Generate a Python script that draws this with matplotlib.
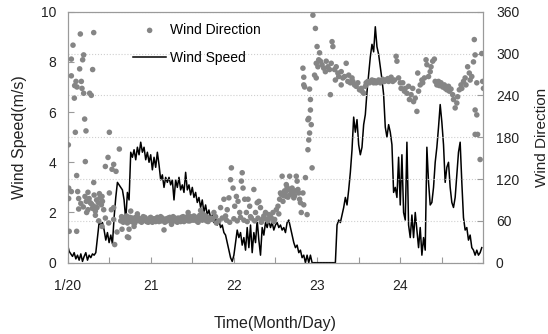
import numpy as np
import matplotlib
matplotlib.use('Agg')
import matplotlib.pyplot as plt
from matplotlib.patches import Rectangle

plt.rcParams['font.family'] = ['Liberation Sans', 'DejaVu Sans']

# wind speed (m/s), one value every 0.02 day starting 1/20 00:00
speed = [
    0.73, 0.45, 0.35, 0.25, 0.4, 0.15, 0.3, 0.1, 0.35, 0.05,
    0.25, 0.4, 0.1, 0.3, 0.2, 0.35, 0.3, 0.4, 1.0, 1.6,
    1.5, 1.6, 1.3, 0.9, 1.2, 0.8, 1.1, 0.75, 1.8, 2.6,
    3.2, 3.1, 3.0, 2.9, 2.5, 1.7, 2.8, 2.5, 4.4, 4.2,
    4.5, 4.1, 4.6, 4.3, 4.8, 4.4, 4.6, 4.1, 4.4, 4.0,
    4.3, 3.7, 4.2, 3.8, 4.4, 3.9, 3.3, 3.5, 3.0, 3.4,
    3.2, 3.4, 3.1, 3.3, 2.5, 3.3, 3.0, 3.4, 2.9, 3.1,
    2.8, 3.6, 2.9, 3.1, 2.7, 3.0, 2.6, 2.8, 2.4, 2.6,
    2.2, 2.5, 2.0, 2.3, 1.9, 2.1, 1.8, 1.9, 1.6, 1.8,
    1.5, 1.7, 1.4, 1.5, 1.2, 1.1, 0.8, 0.5, 0.2, 0.05,
    0.3, 0.8, 1.3, 1.0, 1.2, 0.7, 1.0, 0.5, 1.4, 0.6,
    1.5, 0.4, 1.2, 0.8, 1.7, 0.9, 0.3, 1.4, 1.1, 1.6,
    1.4, 1.7, 1.4, 1.6, 1.3, 1.5, 1.6, 1.4, 1.5, 1.3,
    1.4, 1.2, 1.6, 1.7, 1.4, 1.1, 0.8, 0.6, 0.7, 0.4,
    0.5, 0.2, 0.3, 0.0, 0.3, 0.0, 0.3, 0.0, 0.0, 0.0,
    0.0, 0.0, 0.0, 0.0, 0.0, 0.0, 0.0, 0.0, 0.0, 0.0,
    0.0, 0.0, 1.5, 1.7, 1.6, 1.9, 2.2, 2.6, 2.3, 2.9,
    3.6, 4.5, 5.8, 5.2, 5.7, 4.7, 4.3, 4.6, 5.5, 5.9,
    6.8, 7.5, 8.2, 8.7, 8.4, 9.4, 8.6, 8.3, 7.8, 7.3,
    6.7, 5.4, 5.0, 5.5, 5.2, 4.7, 2.8, 3.0, 2.6, 4.2,
    2.3, 4.3, 2.0, 1.7, 4.8, 1.5, 1.0, 1.9, 1.0, 2.0,
    1.3, 0.6, 1.4, 0.3, 1.0, 0.5, 4.6, 3.2, 2.3, 2.4,
    3.0, 4.0, 4.6, 5.4, 6.3, 5.6, 4.7, 3.2, 3.8, 4.0,
    3.0, 2.4, 2.2, 2.6, 3.5, 4.4, 4.8, 3.2, 1.8, 1.3,
    1.4, 0.9, 1.1, 0.6, 0.5, 0.3, 0.5, 0.3, 0.4, 0.6,
]
speed_day = np.arange(len(speed)) * 0.02

# wind direction (deg), day offset from 1/20 00:00
day_a = [0.154, 0.315, 0.066, 0.046, 0.194, 0.182, 0.146, 0.302, 0.046, 0.102,
         0.086, 0.166, 0.114, 0.174, 0.194, 0.266, 0.286, 0.082, 0.206, 0.222,
         0.094, 0.503, 0.010, 0.214, 0.623, 0.487, 0.555, 0.455, 0.535, 0.583,
         0.110, 0.315, 0.014, 0.046, 0.122, 0.246, 0.383, 0.415, 0.503, 0.014,
         0.134, 0.226, 0.274, 0.315, 0.355, 0.407, 0.134, 0.246, 0.335, 0.435,
         0.527, 0.555, 0.335, 0.455, 0.375, 0.495, 0.555, 0.655, 0.595, 0.735,
         0.567, 0.020, 0.110, 0.415, 0.26, 0.29, 0.32, 0.35, 0.37, 0.39,
         0.42, 0.30, 0.16, 0.19, 0.21, 0.23]
deg_a = [328, 330, 312, 292, 298, 291, 278, 277, 268, 260,
         254, 260, 252, 250, 243, 243, 240, 236, 206, 189,
         187, 187, 169, 145, 163, 151, 141, 138, 134, 131,
         125, 115, 107, 102, 102, 101, 99, 95, 100, 92,
         92, 88, 86, 81, 79, 83, 77, 76, 74, 76,
         76, 79, 68, 64, 60, 57, 62, 48, 44, 36,
         26, 45, 45, 52, 92, 84, 97, 90, 86, 93,
         88, 78, 85, 80, 95, 72]

day_b = [0.64, 0.65, 0.67, 0.68, 0.70, 0.71, 0.72, 0.74, 0.75, 0.77,
         0.78, 0.80, 0.81, 0.83, 0.84, 0.86, 0.87, 0.89, 0.90, 0.92,
         0.93, 0.95, 0.96, 0.98, 0.99, 1.01, 1.02, 1.04, 1.05, 1.07,
         1.08, 1.10, 1.11, 1.13, 1.14, 1.16, 1.17, 1.19, 1.20, 1.22,
         1.23, 1.25, 1.26, 1.28, 1.29, 1.31, 1.32, 1.34, 1.35, 1.37,
         1.38, 1.40, 1.41, 1.43, 1.44, 1.46, 1.47, 1.49, 1.50, 1.52,
         1.53, 1.55, 1.56, 1.58, 1.59, 1.61, 1.62, 1.64, 1.65, 1.67,
         1.68, 1.70,
         0.66, 0.69, 0.73, 0.76, 0.79, 0.82, 0.85, 0.88, 0.91, 0.94,
         0.97, 1.00, 1.03, 1.06, 1.09, 1.12, 1.15, 1.18, 1.21, 1.24,
         1.27, 1.30, 1.33, 1.36, 1.39, 1.42, 1.45, 1.48, 1.51, 1.54,
         1.57, 1.60, 1.63, 1.66, 1.69,
         0.72, 0.74, 0.76, 0.80, 0.84, 1.16, 1.45, 1.60, 1.25]
deg_b = [60, 66, 58, 63, 61, 67, 57, 62, 65, 59,
         64, 61, 57, 63, 66, 60, 62, 58, 64, 61,
         65, 59, 62, 60, 64, 61, 58, 63, 60, 62,
         65, 59, 62, 60, 64, 61, 58, 63, 60, 62,
         65, 59, 62, 60, 64, 61, 58, 63, 61, 65,
         62, 59, 63, 61, 66, 62, 60, 64, 62, 67,
         63, 60, 65, 62, 68, 64, 61, 66, 63, 60,
         65, 62,
         62, 65, 60, 63, 58, 65, 62, 60, 66, 62,
         58, 65, 62, 59, 63, 66, 62, 60, 64, 61,
         66, 60, 64, 59, 66, 63, 60, 66, 61, 64,
         58, 63, 70, 67, 59,
         37, 48, 74, 52, 70, 47, 72, 75, 55]

day_c = [1.73, 1.76, 1.79, 1.84, 1.88, 1.90, 1.92, 1.94, 1.96, 1.97,
         1.99, 2.01, 2.03, 2.05, 2.07, 2.09, 2.10, 2.11, 2.13, 2.15,
         2.17, 2.19, 2.21, 2.24, 2.26, 2.28, 2.30, 2.32, 2.34, 2.36,
         2.38, 2.40, 2.42, 2.45, 2.47, 2.49, 2.51,
         1.74, 1.78, 1.82, 1.86, 1.91, 1.95, 2.00, 2.04, 2.08, 2.12,
         2.16, 2.20, 2.25, 2.29, 2.33, 2.37, 2.41, 2.44, 2.48]
deg_c = [64, 72, 57, 79, 91, 67, 76, 93, 119, 136,
         107, 81, 95, 88, 72, 117, 129, 107, 91, 72,
         91, 81, 64, 105, 72, 86, 88, 79, 62, 67,
         72, 62, 69, 64, 72, 62, 76,
         62, 66, 60, 64, 61, 58, 63, 60, 65, 61,
         59, 66, 60, 64, 58, 63, 60, 66, 59]

day_d = [2.53, 2.55, 2.57, 2.58, 2.59, 2.61, 2.63, 2.63, 2.66, 2.67,
         2.68, 2.70, 2.72, 2.74, 2.75, 2.76, 2.77, 2.79, 2.80, 2.81,
         2.56, 2.60, 2.62, 2.65, 2.69, 2.71, 2.73, 2.78, 2.64, 2.54]
deg_d = [81, 91, 98, 124, 88, 103, 112, 95, 105, 124,
         98, 107, 93, 103, 124, 117, 105, 91, 86, 72,
         100, 96, 101, 94, 102, 99, 96, 100, 108, 70]

day_e = [2.83, 2.84, 2.86, 2.88, 2.89, 2.89, 2.90, 2.90, 2.91, 2.92,
         2.92, 2.93, 2.94, 2.83, 2.84, 2.84, 2.85, 2.91]
deg_e = [100, 83, 122, 69, 162, 205, 176, 207, 186, 219,
         234, 198, 136, 279, 266, 255, 252, 249]

day_f = [2.95, 2.98, 3.00, 3.02, 3.03, 2.99, 3.01, 2.97, 2.99, 3.04,
         3.06, 3.08, 3.10, 3.11, 3.13, 3.15, 3.16, 3.17, 3.18, 3.19,
         3.21, 3.23, 3.25, 3.26, 3.29, 3.31, 3.33, 3.35, 3.37, 3.38,
         3.40, 3.42, 3.43, 3.45, 3.47, 3.49, 3.51, 3.53, 3.54, 3.56,
         3.58, 3.22, 3.29]
deg_f = [355, 336, 310, 291, 301, 286, 281, 269, 265, 289,
         284, 279, 274, 289, 281, 277, 241, 286, 317, 310,
         277, 281, 272, 267, 274, 265, 267, 286, 260, 269,
         258, 265, 260, 255, 253, 258, 248, 250, 246, 243,
         253, 262, 255]

day_g = [3.59, 3.61, 3.63, 3.64, 3.66, 3.68, 3.69, 3.71, 3.73, 3.74,
         3.76, 3.78, 3.79, 3.81, 3.83, 3.85, 3.86, 3.88, 3.89, 3.91,
         3.93, 3.95, 3.96]
deg_g = [258, 260, 258, 260, 262, 258, 261, 258, 260, 262,
         258, 261, 263, 260, 262, 264, 260, 263, 266, 260,
         262, 296, 289]

day_h = [3.98, 4.00, 4.01, 4.03, 4.05, 4.06, 4.08, 4.10, 4.11, 4.13,
         4.15, 4.16, 4.18, 4.20, 4.21, 4.22, 4.24, 4.26, 4.27, 4.29,
         4.31, 4.32, 4.34, 4.36, 4.37, 4.39, 4.41, 4.42, 4.44, 4.46,
         4.47, 4.49, 4.51, 4.53, 4.54, 4.56, 4.58, 4.59, 4.61, 4.63,
         4.64, 4.66, 4.68, 4.69, 4.71, 4.73, 4.74, 4.76, 4.78, 4.79,
         4.81, 4.83, 4.84, 4.86, 4.88, 4.89, 4.90, 4.92, 4.90, 4.92,
         4.90, 4.93, 4.96, 4.98, 4.99, 5.00]
deg_h = [265, 258, 250, 258, 246, 250, 243, 253, 234, 241,
         250, 231, 236, 217, 272, 246, 255, 262, 258, 265,
         291, 284, 267, 274, 281, 289, 292, 260, 255, 260,
         254, 258, 252, 255, 250, 248, 253, 246, 249, 241,
         234, 222, 229, 238, 248, 255, 250, 260, 265, 255,
         281, 272, 262, 267, 288, 320, 298, 258, 219, 212,
         184, 184, 148, 300, 260, 250]

dir_day = np.concatenate([day_a, day_b, day_c, day_d, day_e, day_f, day_g, day_h])
dir_deg = np.concatenate([deg_a, deg_b, deg_c, deg_d, deg_e, deg_f, deg_g, deg_h])

day_ticks = np.arange(0, 5.01, 0.5)
day_labels = ['1/20', '', '21', '', '22', '', '23', '', '24', '', '']

dot_color = '#858585'
frame_color = '#9a9a9a'

fig = plt.figure(figsize=(5.48, 3.34), dpi=100)
ax = fig.add_axes([0.1232, 0.2135, 0.759, 0.7515])
ax2 = ax.twinx()

ax.plot(speed_day, speed, color='black', lw=1.1, label='Wind Speed')
ax2.scatter(dir_day, dir_deg, s=16, color=dot_color, edgecolors='none',
            zorder=3, label='Wind Direction')

ax.set_xlim(0, 5)
ax.set_ylim(0, 10)
ax2.set_ylim(0, 360)
ax.set_xticks(day_ticks)
ax.set_xticklabels(day_labels)
ax.set_yticks(np.arange(0, 11, 2))
ax2.set_yticks(np.arange(0, 361, 60))

ax2.grid(axis='y', color='#cfcfcf', linestyle=':', linewidth=0.8, zorder=0.5)
# white box behind the legend hides the gridlines there
ax2.add_patch(Rectangle((0.030, 0.728), 0.483, 0.247, transform=ax2.transAxes,
                        facecolor='white', edgecolor='none', zorder=1))

for a in (ax, ax2):
    for sp in a.spines.values():
        sp.set_color(frame_color)
ax.tick_params(axis='x', direction='in', length=4, color=frame_color,
               labelsize=10, pad=12, labelcolor='#222222')
ax.tick_params(axis='y', direction='in', length=4, color=frame_color,
               labelsize=10, pad=8, labelcolor='#222222')
ax2.tick_params(axis='y', direction='in', length=4, color=frame_color,
                labelsize=10, pad=9, labelcolor='#222222')

ax.set_ylabel('Wind Speed(m/s)', fontsize=11.5, color='#222222', labelpad=10)
ax2.set_ylabel('Wind Direction', fontsize=11, color='#222222', labelpad=11)
ax.set_xlabel('Time(Month/Day)', fontsize=11.5, color='#222222', labelpad=16)

h1, l1 = ax2.get_legend_handles_labels()
h2, l2 = ax.get_legend_handles_labels()
ax2.legend(h1 + h2, l1 + l2, loc='upper left', bbox_to_anchor=(0.144, 0.977),
           frameon=False, fontsize=10, handlelength=2.4, handletextpad=0.3,
           labelspacing=1.0, scatterpoints=1, borderaxespad=0)

fig.savefig('out.png', dpi=100)
